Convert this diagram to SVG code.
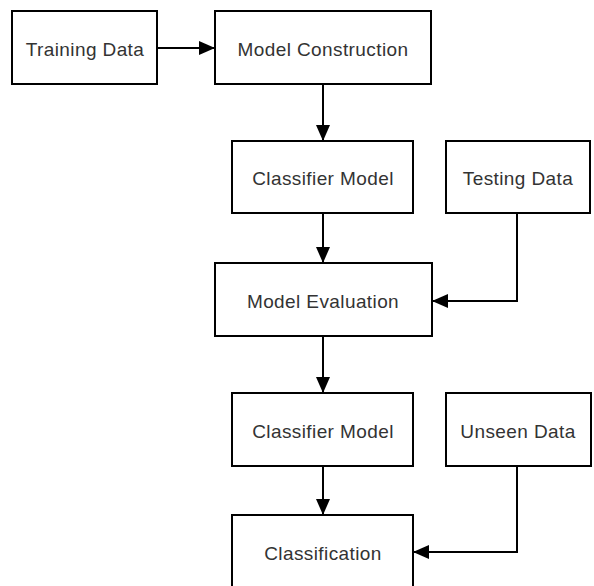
<svg xmlns="http://www.w3.org/2000/svg" width="594" height="586" viewBox="0 0 594 586">
  <defs>
    <style>
      .box { fill: #ffffff; stroke: #000000; stroke-width: 2; }
      .lbl { font-family: "Liberation Sans", Arial, sans-serif; font-size: 19px; letter-spacing: 0.4px; fill: #333333; text-anchor: middle; }
      .conn { fill: none; stroke: #000000; stroke-width: 2; }
    </style>
    <marker id="arrow" markerUnits="userSpaceOnUse" markerWidth="17" markerHeight="15" refX="16" refY="7" orient="auto">
      <path d="M0,0 L16,7 L0,14 z" fill="#000000"/>
    </marker>
  </defs>
  <rect width="594" height="586" fill="#ffffff"/>

  <g id="connectors">
    <line class="conn" x1="157" y1="48" x2="215" y2="48" marker-end="url(#arrow)"/>
    <line class="conn" x1="323" y1="84" x2="323" y2="141" marker-end="url(#arrow)"/>
    <line class="conn" x1="323" y1="213" x2="323" y2="263" marker-end="url(#arrow)"/>
    <polyline class="conn" points="517,213 517,301 432,301" marker-end="url(#arrow)"/>
    <line class="conn" x1="323" y1="336" x2="323" y2="393" marker-end="url(#arrow)"/>
    <line class="conn" x1="323" y1="466" x2="323" y2="515" marker-end="url(#arrow)"/>
    <polyline class="conn" points="517,466 517,552 413,552" marker-end="url(#arrow)"/>
  </g>

  <g id="training-data">
    <rect class="box" x="12" y="11" width="145" height="73"/>
    <text class="lbl" x="85" y="56">Training Data</text>
  </g>
  <g id="model-construction">
    <rect class="box" x="215" y="11" width="216" height="73"/>
    <text class="lbl" x="323" y="56">Model Construction</text>
  </g>
  <g id="classifier-model-1">
    <rect class="box" x="232" y="141" width="181" height="72"/>
    <text class="lbl" x="323" y="185">Classifier Model</text>
  </g>
  <g id="testing-data">
    <rect class="box" x="446" y="141" width="144" height="72"/>
    <text class="lbl" x="518" y="185">Testing Data</text>
  </g>
  <g id="model-evaluation">
    <rect class="box" x="215" y="263" width="217" height="73"/>
    <text class="lbl" x="323" y="308">Model Evaluation</text>
  </g>
  <g id="classifier-model-2">
    <rect class="box" x="232" y="393" width="181" height="73"/>
    <text class="lbl" x="323" y="438">Classifier Model</text>
  </g>
  <g id="unseen-data">
    <rect class="box" x="446" y="393" width="145" height="73"/>
    <text class="lbl" x="518" y="438">Unseen Data</text>
  </g>
  <g id="classification">
    <rect class="box" x="232" y="515" width="181" height="73"/>
    <text class="lbl" x="323" y="560">Classification</text>
  </g>
</svg>
